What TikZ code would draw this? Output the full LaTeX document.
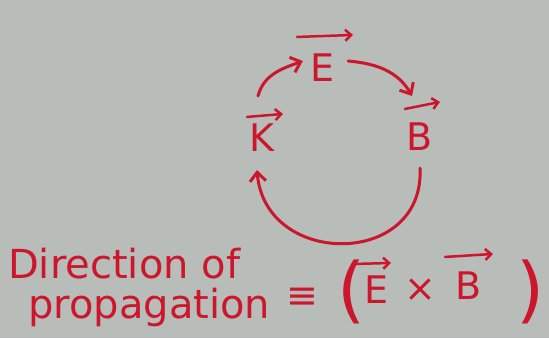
\documentclass[tikz,border=0pt]{standalone}
\usepackage{fontspec}
\setmainfont{DejaVu Sans}
\usetikzlibrary{arrows.meta}
\definecolor{paper}{RGB}{184,189,186}
\definecolor{ink}{RGB}{204,22,44}
\begin{document}
\begin{tikzpicture}[x=1pt,y=-1pt,
  lbl/.style={text=ink,font=\fontsize{38}{38}\selectfont,inner sep=0pt},
  txt/.style={text=ink,font=\fontsize{40}{40}\selectfont,inner sep=0pt},
  par/.style={text=ink,font=\fontsize{72}{72}\selectfont,inner sep=0pt},
  vec/.style={draw=ink,line width=2.5pt,line cap=round,-{Straight Barb[length=6pt,width=11pt]}},
  conn/.style={draw=ink,line width=3pt,line cap=round,-{Straight Barb[length=9pt,width=16pt]}}]
\fill[paper] (0,0) rectangle (549,338);
\useasboundingbox (0,0) rectangle (549,338);
% cycle
\node[lbl] (E) at (323,68) {E};
\node[lbl] (B) at (420,137) {B};
\node[lbl] (K) at (262,138) {K};
\draw[vec] ([shift={(-26pt,17pt)}]E.north) -- ([shift={(30pt,19pt)}]E.north);
\draw[vec] ([shift={(-15pt,14pt)}]B.north) -- ([shift={(20pt,21pt)}]B.north);
\draw[vec] ([shift={(-15pt,7pt)}]K.north) -- ([shift={(21pt,10pt)}]K.north);
\coordinate (e1) at ([shift={(13pt,7pt)}]E.east);
\coordinate (b1) at ([shift={(-8pt,27pt)}]B.north);
\coordinate (b2) at ([shift={(0pt,-17pt)}]B.south);
\coordinate (k1) at ([shift={(-5pt,-18pt)}]K.south);
\coordinate (k2) at ([shift={(-4pt,28pt)}]K.north);
\coordinate (e2) at ([shift={(-8pt,7pt)}]E.west);
\draw[conn] (e1) to[out=-5,in=120] (b1);
\draw[conn] (k2) to[out=75,in=200] (e2);
\draw[conn] (b2) .. controls (425,268) and (265,268) .. (k1);
% bottom text
\node[txt,anchor=west] (dir) at (8,264) {Direction of};
\node[txt,anchor=west] (prop) at (28,307) {propagation};
\node[lbl] (eq) at (302,298) {≡};
\node[par] (lp) at (352,292) {(};
\node[lbl] (E2) at (377,290) {E};
\node[lbl] (x) at (420,290) {×};
\node[lbl] (B2) at (469,286) {B};
\node[par] (rp) at (531,292) {)};
\draw[vec] ([shift={(-22pt,12pt)}]E2.north) -- ([shift={(14pt,13pt)}]E2.north);
\draw[vec] ([shift={(-24pt,15pt)}]B2.north) -- ([shift={(24pt,18pt)}]B2.north);
\end{tikzpicture}
\end{document}
